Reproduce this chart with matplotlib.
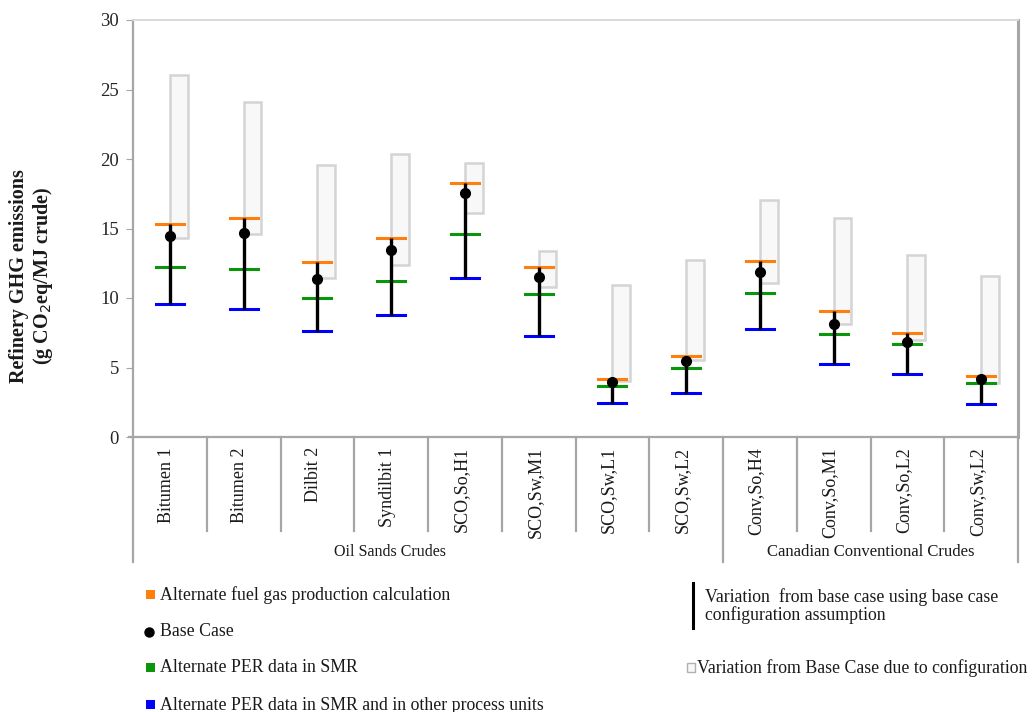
import matplotlib
matplotlib.use("Agg")
import matplotlib.pyplot as plt
from matplotlib.patches import Rectangle

plt.rcParams['font.family'] = ['Liberation Serif', 'DejaVu Serif']

categories = ["Bitumen 1", "Bitumen 2", "Dilbit 2", "Syndilbit 1", "SCO,So,H1", "SCO,Sw,M1",
              "SCO,Sw,L1", "SCO,Sw,L2", "Conv,So,H4", "Conv,So,M1", "Conv,So,L2", "Conv,Sw,L2"]
groups = ["Oil Sands Crudes", "Canadian Conventional Crudes"]
group_sizes = [8, 4]

base_case = [14.46, 14.70, 11.34, 13.45, 17.53, 11.53, 3.94, 5.47, 11.87, 8.13, 6.83, 4.15]
alt_fuel_gas = [15.35, 15.76, 12.61, 14.29, 18.25, 12.20, 4.15, 5.85, 12.68, 9.04, 7.46, 4.37]
alt_per_smr = [12.20, 12.10, 10.02, 11.25, 14.63, 10.26, 3.65, 4.94, 10.36, 7.43, 6.71, 3.88]
alt_per_all = [9.55, 9.23, 7.63, 8.80, 11.46, 7.29, 2.45, 3.19, 7.75, 5.25, 4.53, 2.35]
config_low = [14.34, 14.58, 11.46, 12.40, 16.12, 10.77, 4.05, 5.54, 11.10, 8.13, 6.98, 3.88]
config_high = [26.04, 24.12, 19.57, 20.38, 19.69, 13.38, 10.94, 12.73, 17.07, 15.78, 13.09, 11.58]

yticks = [0, 5, 10, 15, 20, 25, 30]

ORANGE = "#ff7f0e"
GREEN = "#0a960a"
BLUE = "#0000ff"
BOX_FACE = "#f8f8f8"
BOX_EDGE = "#d4d4d4"
GRID_GRAY = "#a6a6a6"

W, H = 1033, 712
fig = plt.figure(figsize=(W / 100, H / 100), dpi=100)
ax = fig.add_axes([133 / W, 1 - 437 / H, (1018 - 133) / W, (437 - 20) / H])

n = len(categories)
xs = list(range(n))
cap = 0.19
box_w = 0.24

for i in xs:
    ax.add_patch(Rectangle((i, config_low[i]), box_w, config_high[i] - config_low[i],
                           facecolor=BOX_FACE, edgecolor=BOX_EDGE, linewidth=1.8, zorder=1))
    ax.plot([i, i], [alt_per_all[i], alt_fuel_gas[i]], color="black", lw=2.4, zorder=3,
            solid_capstyle="butt")
    ax.plot([i - cap, i + cap], [alt_fuel_gas[i]] * 2, color=ORANGE, lw=2.2, zorder=2)
    ax.plot([i - cap, i + cap], [alt_per_smr[i]] * 2, color=GREEN, lw=2.2, zorder=2)
    ax.plot([i - cap, i + cap], [alt_per_all[i]] * 2, color=BLUE, lw=2.2, zorder=2)
ax.plot(xs, base_case, "o", color="black", markersize=7, zorder=4, linestyle="none")

ax.set_xlim(-0.5, n - 0.5)
ax.set_ylim(0, 30)
ax.set_yticks(yticks)
ax.set_xticks([])
ax.tick_params(axis="y", direction="out", length=5, color=GRID_GRAY, labelsize=13.5,
               labelcolor="#262626", pad=5)
for s, c, lw in [("left", GRID_GRAY, 1.6), ("bottom", GRID_GRAY, 1.6),
                 ("top", "#d9d9d9", 1.4), ("right", "#a6a6a6", 2.2)]:
    ax.spines[s].set_color(c)
    ax.spines[s].set_linewidth(lw)

# category table below the axis
tr = ax.get_xaxis_transform()
ax.plot([-0.56, -0.5], [0, 0], color=GRID_GRAY, lw=1.6, transform=tr, clip_on=False)
bounds = [-0.5]
acc = -0.5
for g in group_sizes:
    acc += g
    bounds.append(acc)
for k in range(n + 1):
    xb = k - 0.5
    y_end = -0.300 if xb in bounds else -0.226
    ax.plot([xb, xb], [0, y_end], color=GRID_GRAY, lw=1.6, transform=tr, clip_on=False)
for i, lab in enumerate(categories):
    ax.text(i - 0.05, -0.024, lab, rotation=90, ha="center", va="top", fontsize=13,
            transform=tr, color="#1a1a1a")
group_x = [2.98, 9.51]
group_fs = [11.5, 12]
for gx, g, fs in zip(group_x, groups, group_fs):
    ax.text(gx, -0.276, g, ha="center", va="center", fontsize=fs, transform=tr,
            color="#1a1a1a")

fig.text(32 / W, 1 - 276 / H, "Refinery GHG emissions\n(g CO$_2$eq/MJ crude)", rotation=90,
         ha="center", va="center", fontsize=14.5, fontweight="bold", linespacing=1.1,
         color="#1a1a1a")

# legend drawn in pixel space
lg = fig.add_axes([0, 0, 1, 1], zorder=-1)
lg.set_xlim(0, W)
lg.set_ylim(H, 0)
lg.axis("off")
legend_items = [("square", ORANGE, "Alternate fuel gas production calculation", 595),
                ("dot", "black", "Base Case", 632),
                ("square", GREEN, "Alternate PER data in SMR", 668),
                ("square", BLUE, "Alternate PER data in SMR and in other process units", 705)]
for kind, col, txt, yy in legend_items:
    if kind == "square":
        lg.add_patch(Rectangle((146, yy - 5), 9, 9, facecolor=col, edgecolor="none"))
    else:
        lg.plot([149], [yy], "o", color=col, markersize=6.5)
    lg.text(160, yy, txt, ha="left", va="center", fontsize=12.8, color="#1a1a1a")
lg.plot([693, 693], [583, 628], color="black", lw=2.2)
lg.text(705, 606, "Variation  from base case using base case\nconfiguration assumption",
        ha="left", va="center", fontsize=12.8, linespacing=1.0, color="#1a1a1a")
lg.add_patch(Rectangle((687, 663), 8, 9, facecolor=BOX_FACE, edgecolor="#b0b0b0", lw=1))
lg.text(697, 668, "Variation from Base Case due to configuration", ha="left", va="center",
        fontsize=12.8, color="#1a1a1a")

fig.savefig("out.png", dpi=100, facecolor="white")
